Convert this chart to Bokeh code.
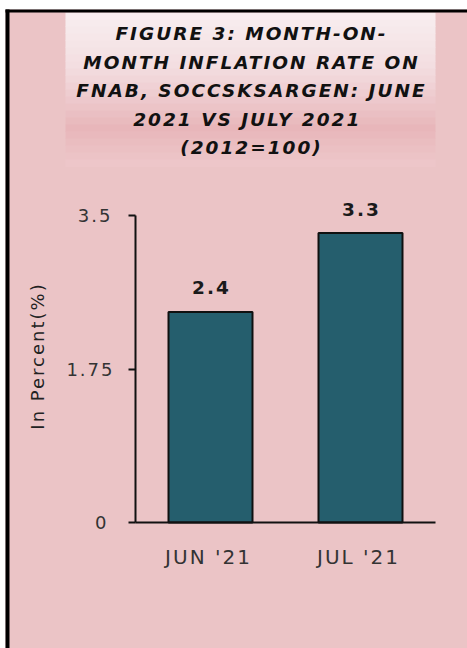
from bokeh.plotting import figure
from bokeh.models import (Range1d, FixedTicker, Label, BoxAnnotation, LabelSet,
                          ColumnDataSource, LinearAxis, InlineStyleSheet)
from bokeh.core.properties import value
from bokeh.embed import file_html
from bokeh.resources import INLINE

categories = ["JUN '21", "JUL '21"]
values = [2.4, 3.3]
value_labels = ["2.4", "3.3"]
y_ticks = [0, 1.75, 3.5]
title_lines = ["FIGURE 3: MONTH-ON-", "MONTH INFLATION RATE ON",
               "FNAB, SOCCSKSARGEN: JUNE", "2021  VS JULY 2021", "(2012=100)"]
y_label = "In Percent(%)"

W, H = 467, 648
BG = "#EBC4C6"
BAR = "#255E6D"
FONT = "DejaVu Sans"
LS = 2  # letter spacing (px) applied through CSS

# placement of the plotting area in the canvas (pixels from top-left)
X0_PX = 210      # first category centre
CAT_PX = 150     # pixels per category
Y0_PX = 522      # value 0
Y_TOP = 3.5
Y_TOP_PX = 215   # value 3.5
ppu = (Y0_PX - Y_TOP_PX) / Y_TOP

xs = list(range(len(categories)))
p = figure(width=W, height=H, output_backend="svg", toolbar_location=None,
           x_range=Range1d(-X0_PX / CAT_PX, (W - X0_PX) / CAT_PX),
           y_range=Range1d(-(H - Y0_PX) / ppu, Y0_PX / ppu),
           x_axis_location=None, y_axis_location=None, min_border=0)
p.min_border_left = p.min_border_right = p.min_border_top = p.min_border_bottom = 0
p.background_fill_color = "#FFFFFF"
p.border_fill_color = "#FFFFFF"
p.outline_line_color = None
p.grid.visible = False

p.stylesheets = [InlineStyleSheet(css=":host{letter-spacing:%dpx;}" % LS)]

def sbox(left, right, top, bottom, color):
    # box in pixel coordinates measured from the canvas top-left
    return BoxAnnotation(left=left, right=right, top=H - top, bottom=H - bottom,
                         left_units="screen", right_units="screen",
                         top_units="screen", bottom_units="screen",
                         fill_color=color, fill_alpha=1, line_color=None, level="underlay")

# pink page
p.add_layout(sbox(5, W, 9, H, BG))

# title box with a vertical gradient (stacked strips)
stops = [(0.0, (248, 238, 240)), (0.35, (243, 222, 225)), (0.75, (232, 182, 186)), (1.0, (237, 200, 203))]
def interp(t):
    for (t0, c0), (t1, c1) in zip(stops[:-1], stops[1:]):
        if t0 <= t <= t1:
            f = (t - t0) / (t1 - t0)
            return "#%02x%02x%02x" % tuple(int(round(a + (b - a) * f)) for a, b in zip(c0, c1))
    return "#%02x%02x%02x" % stops[-1][1]
bt, bb, bl, br = 12, 166, 65, 435
n = 22
for i in range(n):
    y0 = bt + (bb - bt) * i / n
    y1 = bt + (bb - bt) * (i + 1) / n
    p.add_layout(sbox(bl, br, y0, y1 + 0.5, interp((i + 0.5) / n)))

# black frame lines at left and top
p.add_layout(sbox(5, 9, 9, H, "#000000"))
p.add_layout(sbox(5, W, 9, 12, "#000000"))

for i, line in enumerate(title_lines):
    p.add_layout(Label(x=250 - LS * (len(line) - 1) / 2, y=H - 33 - i * 28.5,
                       x_units="screen", y_units="screen", text=line,
                       text_align="center", text_baseline="middle",
                       text_font=FONT, text_font_style="bold italic",
                       text_font_size="18.5px", text_color="#111111"))

src = ColumnDataSource(dict(x=xs, top=values, label=value_labels))
p.vbar(x="x", top="top", width=0.56, source=src, fill_color=BAR, line_color="#101010", line_width=2)

p.add_layout(LabelSet(x="x", y="top", text="label", source=src, y_offset=24, x_offset=-LS,
                      text_align="center", text_baseline="middle",
                      text_font=value(FONT), text_font_style="bold",
                      text_font_size="18.5px", text_color="#1a1a1a"))

ya = LinearAxis(fixed_location=-0.5, bounds=(0, 3.5))
ya.ticker = FixedTicker(ticks=y_ticks)
ya.minor_tick_line_color = None
ya.major_tick_in = 0
ya.major_tick_out = 7
ya.major_tick_line_width = 2
ya.major_tick_line_color = "#111111"
ya.axis_line_width = 2
ya.axis_line_color = "#111111"
ya.major_label_text_font = FONT
ya.major_label_text_font_size = "18px"
ya.major_label_text_color = "#333333"
ya.major_label_standoff = 22
ya.axis_label = y_label
ya.axis_label_text_font = FONT
ya.axis_label_text_font_size = "18px"
ya.axis_label_text_font_style = "normal"
ya.axis_label_text_color = "#222222"
ya.axis_label_standoff = 15
p.add_layout(ya, "left")

# category labels: shift tick anchors left to compensate for the CSS letter spacing
dx = (LS * 3 + 3) / CAT_PX
cat_ticks = [i - dx for i in xs]
xa = LinearAxis(fixed_location=0, bounds=(-0.5, len(categories) - 0.5))
xa.ticker = FixedTicker(ticks=cat_ticks)
xa.major_label_overrides = {t: c for t, c in zip(cat_ticks, categories)}
xa.major_tick_line_color = None
xa.minor_tick_line_color = None
xa.axis_line_width = 2
xa.axis_line_color = "#111111"
xa.major_label_text_font = FONT
xa.major_label_text_font_size = "20px"
xa.major_label_text_color = "#333333"
xa.major_label_standoff = 16
p.add_layout(xa, "below")

open("out.html", "w").write(file_html(p, INLINE))
